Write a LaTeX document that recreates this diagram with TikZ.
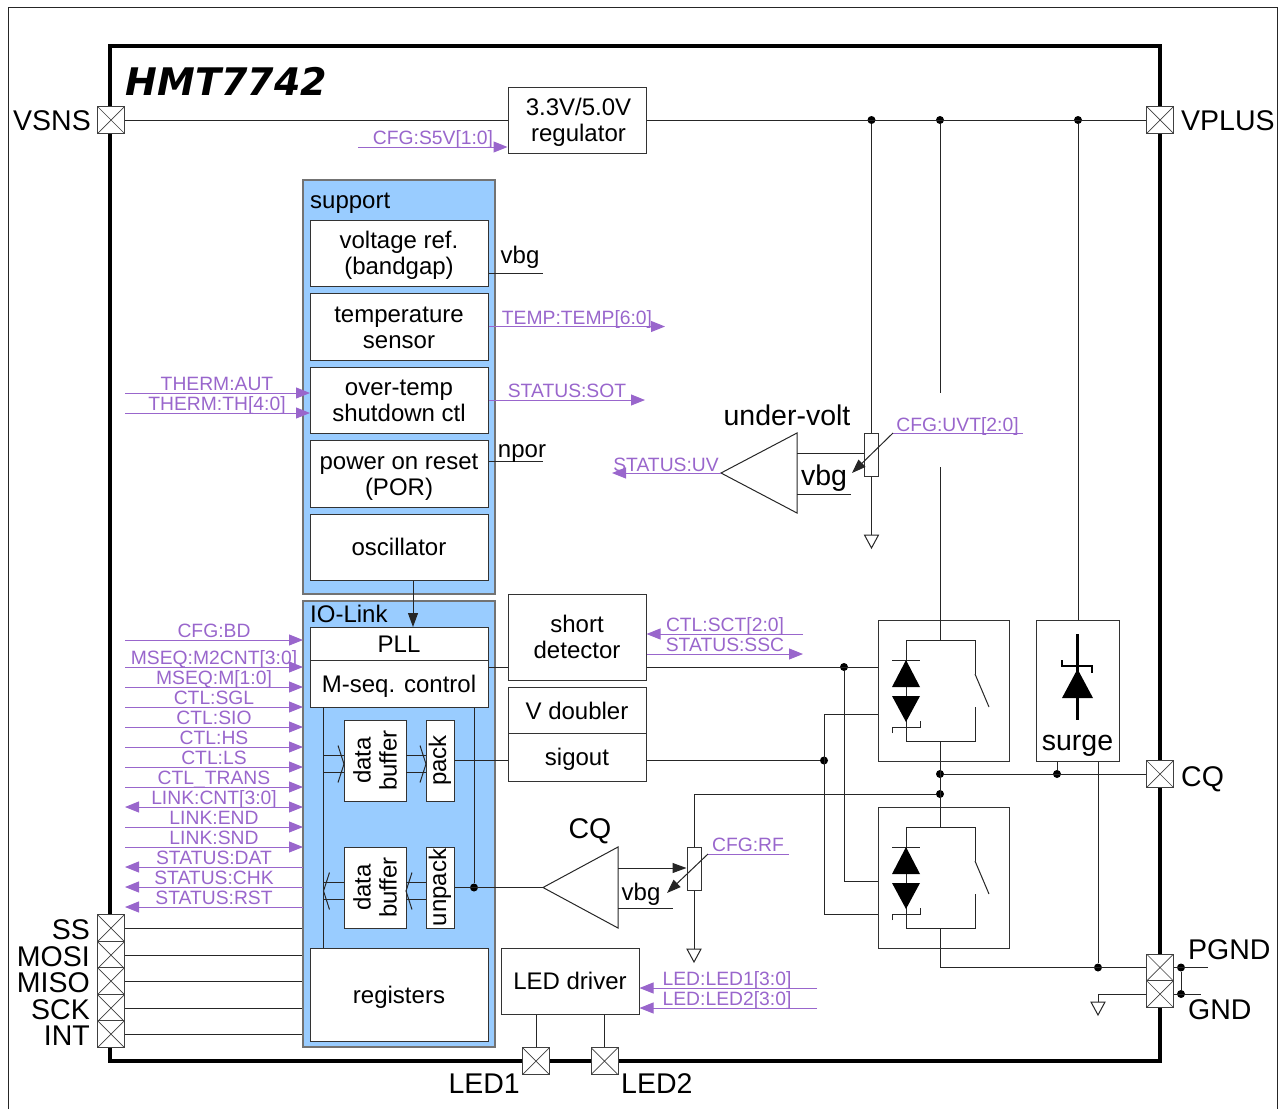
\documentclass[tikz,border=0pt]{standalone}
\usepackage{fontspec}
\setmainfont{Liberation Sans}
\newfontfamily\chipfont{DejaVu Sans}
\usetikzlibrary{arrows.meta}
\definecolor{sigcol}{HTML}{9966CC}
\definecolor{blockblue}{HTML}{99CCFF}
\tikzset{
  wire/.style={line width=1pt,draw=black!85},
  sig/.style={line width=1pt,draw=sigcol,>={Triangle[length=14pt,width=11pt]}},
  ctl/.style={wire,>={Triangle[length=14pt,width=10pt]}},
  sigtxt/.style={anchor=base,text=sigcol,inner sep=0pt,font=\fontsize{19.3}{21}\selectfont},
  txt/.style={anchor=base,inner sep=0pt,font=\fontsize{24}{26}\selectfont},
  bigtxt/.style={anchor=base,inner sep=0pt,font=\fontsize{28.5}{30}\selectfont},
  blk/.style={draw=black!80,line width=1pt,fill=white,inner sep=0pt},
  blktxt/.style={align=center,inner sep=0pt,font=\fontsize{24}{26}\selectfont},
  grp/.style={draw=black!55,line width=1.5pt,fill=blockblue,inner sep=0pt},
  dot/.style={circle,fill=black,inner sep=0pt,minimum size=8pt},
  pad/.style={draw=black!75,line width=1pt,fill=white,inner sep=0pt,minimum size=27pt,
    path picture={\draw[line width=.7pt] (path picture bounding box.north west) -- (path picture bounding box.south east)
      (path picture bounding box.north east) -- (path picture bounding box.south west);}},
  gnd/.pic={\draw[wire] (-7,0) -- (7,0) -- (0,13) -- cycle;}
}
\begin{document}
\begin{tikzpicture}[x=1pt,y=-1pt]
\useasboundingbox (0,0) rectangle (1283,1109);
\draw[line width=1pt,black!85] (8,1109) -- (8,7) -- (1277,7) -- (1277,1109);
\draw[line width=3.5pt,line join=miter] (110,46) rectangle (1160,1061);
\node[anchor=base,inner sep=0pt,font=\chipfont\fontsize{38}{40}\selectfont\bfseries\itshape] (chipname) at (226.5,95) {HMT7742};

\node[grp,minimum width=192,minimum height=414] (supportblk) at (399,387) {};
\node[grp,minimum width=192,minimum height=446] (ioblk) at (399,824) {};
\node[txt,anchor=base west] (supporttxt) at (310,208) {support};
\node[txt,anchor=base west] (iotxt) at (310,622) {IO-Link};

\node[blk,minimum width=138,minimum height=66] (reg) at (577,120) {};
\node[blk,minimum width=178,minimum height=66] (vref) at (399,253) {};
\node[blk,minimum width=178,minimum height=67] (tsense) at (399,326.5) {};
\node[blk,minimum width=178,minimum height=66] (otemp) at (399,400) {};
\node[blk,minimum width=178,minimum height=67] (por) at (399,473.5) {};
\node[blk,minimum width=178,minimum height=66] (osc) at (399,547) {};
\node[blk,minimum width=178,minimum height=33] (pll) at (399,644) {};
\node[blk,minimum width=178,minimum height=47] (mseq) at (399,684) {};
\node[blk,minimum width=178,minimum height=93] (regs) at (399,994.5) {};
\node[blk,minimum width=62,minimum height=81] (dbufa) at (375,760.5) {};
\node[blk,minimum width=62,minimum height=81] (dbufb) at (375,887.5) {};
\node[blk,minimum width=28,minimum height=81] (pack) at (440,760.5) {};
\node[blk,minimum width=28,minimum height=81] (unpack) at (440,887.5) {};
\node[blk,minimum width=138,minimum height=86] (short) at (577,637) {};
\node[blk,minimum width=138,minimum height=46] (vdbl) at (577,710) {};
\node[blk,minimum width=138,minimum height=48] (sigout) at (577,757) {};
\node[blk,minimum width=138,minimum height=66] (ledd) at (570,981) {};
\node[blk,minimum width=83,minimum height=141] (surge) at (1077.5,690.5) {};

\node[blktxt] (regtxt) at (578.5,122) {3.3V/5.0V\\regulator};
\node[blktxt] (vreftxt) at (399,255) {voltage ref.\\(bandgap)};
\node[blktxt] (tsensetxt) at (399,327.5) {temperature\\sensor};
\node[blktxt] (otemptxt) at (399,401) {over-temp\\shutdown ctl};
\node[blktxt] (portxt) at (399,477) {power on reset\\(POR)};
\node[blktxt] (osctxt) at (399,547) {oscillator};
\node[blktxt] (plltxt) at (399,644) {PLL};
\node[blktxt] (mseqtxt) at (399,686) {M-seq. control};
\node[blktxt] (regstxt) at (399,997) {registers};
\node[blktxt,rotate=90] (dbufatxt) at (375,760.5) {data\\buffer};
\node[blktxt,rotate=90] (dbufbtxt) at (375,887.5) {data\\buffer};
\node[blktxt,rotate=90] (packtxt) at (440,760.5) {pack};
\node[blktxt,rotate=90] (unpacktxt) at (440,887.5) {unpack};
\node[blktxt] (shorttxt) at (577,637) {short\\detector};
\node[blktxt] (vdbltxt) at (577,711) {V doubler};
\node[blktxt] (sigouttxt) at (577,759) {sigout};
\node[blktxt] (leddtxt) at (570,981) {LED driver};
\node[bigtxt] (surgetxt) at (1077.5,750) {surge};

\node[pad] (vsns) at (111,120) {};
\node[pad] (vplus) at (1160,120) {};
\node[pad] (cq) at (1160,774) {};
\node[pad] (pgnd) at (1160,967.5) {};
\node[pad] (gnd) at (1160,994) {};
\node[pad] (led1) at (536,1061) {};
\node[pad] (led2) at (604.5,1061) {};
\node[bigtxt,anchor=base east] (vsnstxt) at (91,130) {VSNS};
\node[bigtxt,anchor=base west] (vplustxt) at (1181,130) {VPLUS};
\node[bigtxt,anchor=base west] (cqtxt) at (1181,786) {CQ};
\node[bigtxt,anchor=base west] (pgndtxt) at (1188,959) {PGND};
\node[bigtxt,anchor=base west] (gndtxt) at (1188,1019) {GND};
\node[bigtxt,anchor=base east] (led1txt) at (520,1093) {LED1};
\node[bigtxt,anchor=base west] (led2txt) at (621,1093) {LED2};

\foreach \nm/\y/\txt in {ss/928/SS,mosi/955/MOSI,miso/981/MISO,sck/1008/SCK,int/1034/INT}
{
  \node[pad] (\nm) at (111,\y) {};
  \node[bigtxt,anchor=base east] (\nm txt) at (90,\y+11) {\txt};
  \draw[wire] (\nm) -- (\nm -| ioblk.west);
}

\foreach \nm/\y/\txt/\tip in {bd/640/CFG:BD/->,mcnt/667/MSEQ:M2CNT[3:0]/->,mm/687/MSEQ:M[1:0]/->,sgl/707/CTL:SGL/->,
  sio/727/CTL:SIO/->,hs/747/CTL:HS/->,ls/767/CTL:LS/->,trans/787/CTL\_TRANS/->,cnt/807/LINK:CNT[3:0]/<->,
  lend/827/LINK:END/->,snd/847/LINK:SND/->,dat/867/STATUS:DAT/<-,chk/887/STATUS:CHK/<-,rst/907/STATUS:RST/<-}
{
  \coordinate (\nm a) at (125,\y);
  \coordinate (\nm b) at (303,\y);
  \draw[sig,arrows/.expanded=\tip] (\nm a) -- (\nm b);
  \node[sigtxt] (\nm t) at (214,\y-2.5) {\txt};
}

\foreach \nm/\y/\txt in {aut/393/THERM:AUT,th/413/THERM:TH[4:0]}
{
  \coordinate (\nm a) at (125,\y);
  \coordinate (\nm b) at (310,\y);
  \draw[sig,->] (\nm a) -- (\nm b);
  \node[sigtxt] (\nm t) at (217,\y-2.5) {\txt};
}

\coordinate (s5va) at (358,147);
\coordinate (tempb) at (665,326.5);
\coordinate (sotb) at (645,400);
\coordinate (uvb) at (612,473);
\coordinate (sctb) at (803,634);
\coordinate (sscb) at (803,654);
\coordinate (led1b) at (817,988);
\coordinate (led2b) at (817,1008);
\draw[sig,->] (s5va) -- (s5va -| reg.west);
\draw[sig,->] (tsense.east) -- (tempb);
\draw[sig,->] (otemp.east) -- (sotb);
\draw[sig,->] (sctb) -- (sctb -| short.east);
\draw[sig,->] (sscb -| short.east) -- (sscb);
\draw[sig,->] (led1b) -- (led1b -| ledd.east);
\draw[sig,->] (led2b) -- (led2b -| ledd.east);
\node[sigtxt] (s5vt) at (433,144) {CFG:S5V[1:0]};
\node[sigtxt] (tempt) at (577,324) {TEMP:TEMP[6:0]};
\node[sigtxt] (sott) at (567,397) {STATUS:SOT};
\node[sigtxt] (uvt) at (666,471) {STATUS:UV};
\node[sigtxt] (uvtt) at (957.5,431) {CFG:UVT[2:0]};
\node[sigtxt] (rft) at (748,851) {CFG:RF};
\node[sigtxt] (sctt) at (725,631) {CTL:SCT[2:0]};
\node[sigtxt] (ssct) at (725,651.5) {STATUS:SSC};
\node[sigtxt] (led1t) at (727,985) {LED:LED1[3:0]};
\node[sigtxt] (led2t) at (727,1005) {LED:LED2[3:0]};

\coordinate (vbga) at (543,273);
\coordinate (npora) at (543,461);
\draw[wire] (vbga -| vref.east) -- (vbga);
\draw[wire] (npora -| por.east) -- (npora);
\node[txt] (vbgtxt) at (520,263) {vbg};
\node[txt] (nportxt) at (522,457) {npor};
\draw[ctl,->] ([xshift=14]osc.south) -- ([xshift=14]pll.north);

\coordinate (busx) at (323.5,707);
\node[dot] (jrx) at (474,887.5) {};
\draw[wire] (busx) -- (busx |- regs.north);
\draw[wire] (jrx |- mseq.south) -- (jrx);
\foreach \xa/\xb/\yy/\dd in {323.5/344/764/-6,406/426/764/-6,344/323.5/891/6,426/406/891/6}
{
  \draw[wire] (\xa,\yy-8.5) -- (\xb,\yy-8.5) (\xa,\yy+8.5) -- (\xb,\yy+8.5);
  \draw[wire] (\xb+\dd,\yy-18.5) -- (\xb,\yy) -- (\xb+\dd,\yy+18.5);
}

\foreach \dd/\nm in {0/hi,187/lo}
{
  \node[blk,minimum width=131,minimum height=141] (sw\nm) at (943.5,690.5+\dd) {};
  \begin{scope}[shift={(0,\dd)}]
    \draw[wire] (940,620) -- (940,640);
    \draw[wire] (975,674) -- (975,640) -- (906,640) -- (906,741) -- (975,741) -- (975,707);
    \draw[wire] (975,674) -- (989,707);
    \draw[wire] (940,741) -- (940,761);
    \draw[wire] (892,660) -- (920,660);
    \draw[wire] (892,733) -- (892,727) -- (920,727) -- (920,721);
    \fill (892,687) -- (920,687) -- (906,660) -- cycle;
    \fill (892,696) -- (920,696) -- (906,722) -- cycle;
  \end{scope}
}

\node[dot] (jva) at (871.5,120) {};
\node[dot] (jvb) at (940,120) {};
\node[dot] (jvc) at (1078,120) {};
\node[dot] (jcq) at (940,774) {};
\node[dot] (jcqb) at (940,794) {};
\node[dot] (jsurge) at (1057,774) {};
\node[dot] (jpgnd) at (1098,967.5) {};
\node[dot] (jshort) at (844,667) {};
\node[dot] (jsig) at (824,760.5) {};
\node[dot] (jpg) at (1181,967.5) {};
\node[dot] (jgn) at (1181,994) {};
\coordinate (gapa) at (940,393);
\coordinate (gapb) at (940,467);
\coordinate (pgndend) at (1208,967.5);
\coordinate (gndend) at (1201,994);
\coordinate (gndpin) at (1098,1002);
\coordinate (ghia) at (824,714);
\coordinate (gloa) at (844,881);
\coordinate (glob) at (824,914);

\draw[wire] (vsns) -- (reg);
\draw[wire] (reg) -- (vplus);
\draw[wire] (jvb) -- (gapa);
\draw[wire] (gapb) -- (gapb |- swhi.north);
\draw[wire] (jvc) -- (jvc |- surge.north);
\draw[wire] (jcq |- swhi.south) -- (jcq |- swlo.north);
\draw[wire] (jcq) -- (cq);
\draw[wire] (jsurge |- surge.south) -- (jsurge);
\draw[wire] (jpgnd |- surge.south) -- (jpgnd);
\draw[wire] (jcq |- swlo.south) -- (jcq |- jpgnd) -- (pgnd);
\draw[wire] (pgnd) -- (pgndend);
\draw[wire] (gnd) -- (gndend);
\draw[wire] (jpg) -- (jgn);
\draw[wire] (gnd) -- (gnd -| gndpin) -- (gndpin);
\pic at (gndpin) {gnd};
\draw[wire] (mseq.east |- jshort) -- (short.west |- jshort);
\draw[wire] (short.east |- jshort) -- (jshort -| swhi.west);
\draw[wire] (jshort) -- (gloa) -- (gloa -| swlo.west);
\draw[wire] (pack.east) -- (pack -| sigout.west);
\draw[wire] (sigout.east |- jsig) -- (jsig);
\draw[wire] (ghia -| swhi.west) -- (ghia) -- (glob) -- (glob -| swlo.west);
\draw[wire] (ledd.south -| led1) -- (led1);
\draw[wire] (ledd.south -| led2) -- (led2);

\draw[line width=3pt] (1077.5,634) -- (1077.5,720);
\draw[line width=2pt] (1062,660) -- (1062,665.5) -- (1092,665.5) -- (1092,673);
\fill (1062,698) -- (1093,698) -- (1077.5,669) -- cycle;

\coordinate (uvtip) at (721,473);
\coordinate (uvhi) at (797,433);
\coordinate (uvlo) at (797,513);
\coordinate (uvin) at (797,453);
\coordinate (uvref) at (851,494);
\coordinate (uvcfg) at (893,433);
\coordinate (uvcfgend) at (1023,433);
\coordinate (uvwiper) at (852,473);
\coordinate (uvgnd) at (871.5,535);
\node[blk,minimum width=14,minimum height=43] (uvpot) at (871.5,454.5) {};
\draw[wire] (uvtip) -- (uvhi) -- (uvlo) -- cycle;
\draw[sig,->] (uvtip) -- (uvb);
\draw[wire] (jva) -- (uvpot);
\draw[wire] (uvpot) -- (uvgnd);
\pic at (uvgnd) {gnd};
\draw[wire] (uvin) -- (uvin -| uvpot.west);
\draw[wire] (uvin |- uvref) -- (uvref);
\node[bigtxt] (uvvbg) at (824,485) {vbg};
\node[bigtxt] (uvtxt) at (787,425) {under-volt};
\draw[sig] (uvcfg) -- (uvcfgend);
\draw[ctl,->] (uvcfg) -- (uvwiper);

\coordinate (cqtip) at (543,887.5);
\coordinate (cqhi) at (618,847);
\coordinate (cqlo) at (618,928);
\coordinate (cqin) at (618,868);
\coordinate (cqref) at (673,908);
\coordinate (rfcfg) at (708,854);
\coordinate (rfcfgend) at (789,854);
\coordinate (rfwiper) at (667,893);
\coordinate (rfgnd) at (694,949);
\node[blk,minimum width=14,minimum height=43] (rfpot) at (694,868.5) {};
\draw[wire] (unpack) -- (cqtip);
\draw[wire] (cqtip) -- (cqhi) -- (cqlo) -- cycle;
\draw[ctl,->] (cqin) -- (cqin -| rfpot.west);
\draw[wire] (cqin |- cqref) -- (cqref);
\draw[wire] (jcqb) -- (jcqb -| rfpot) -- (rfpot);
\draw[wire] (rfpot) -- (rfgnd);
\pic at (rfgnd) {gnd};
\node[txt] (rfvbg) at (641,900) {vbg};
\node[bigtxt] (cqlbl) at (590,838) {CQ};
\draw[sig] (rfcfg) -- (rfcfgend);
\draw[ctl,->] (rfcfg) -- (rfwiper);
\end{tikzpicture}
\end{document}
